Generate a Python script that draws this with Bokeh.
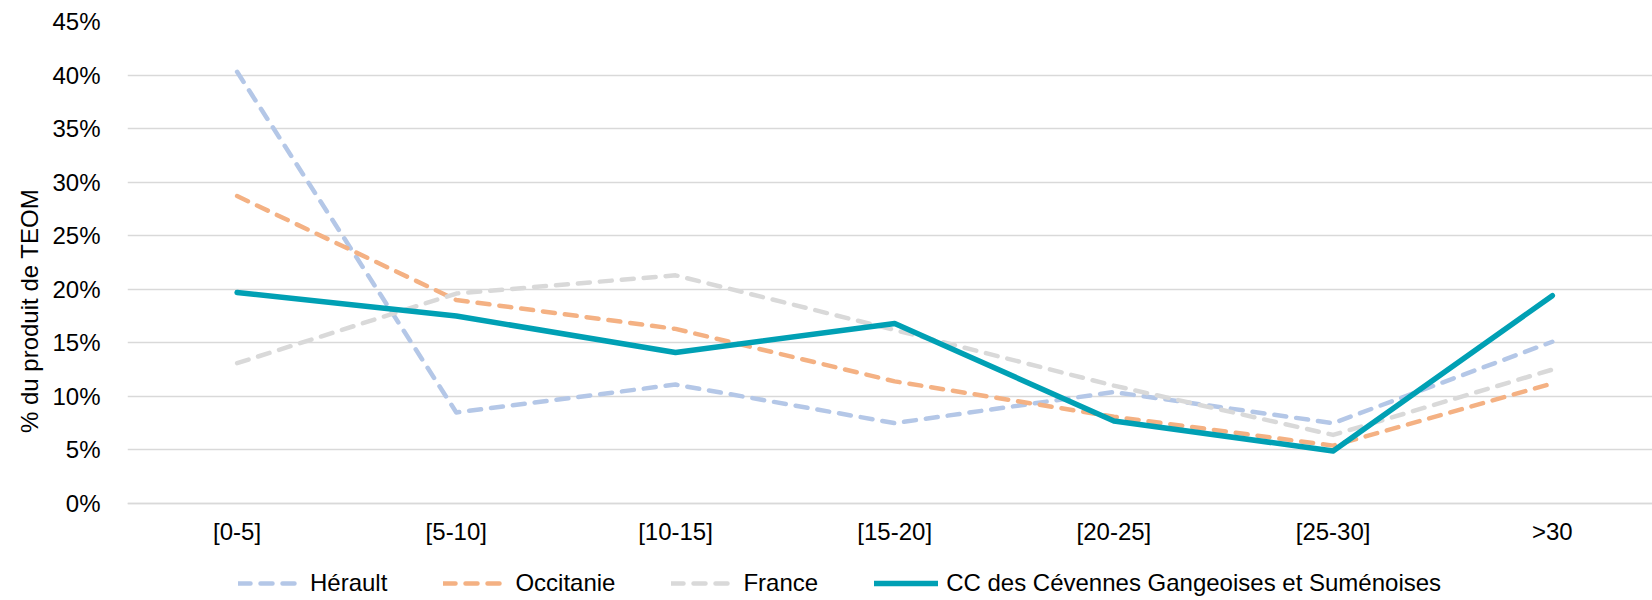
from bokeh.plotting import figure
from bokeh.models import (Range1d, FixedTicker, NumeralTickFormatter, Legend, LegendItem)
from bokeh.embed import file_html
from bokeh.resources import INLINE

categories = ["[0-5]", "[5-10]", "[10-15]", "[15-20]", "[20-25]", "[25-30]", ">30"]
herault = [0.403, 0.085, 0.111, 0.075, 0.104, 0.075, 0.151]
occitanie = [0.287, 0.190, 0.163, 0.114, 0.081, 0.054, 0.112]
france = [0.131, 0.196, 0.213, 0.162, 0.110, 0.064, 0.125]
cc = [0.197, 0.175, 0.141, 0.168, 0.077, 0.049, 0.194]
y_ticks = [0.0, 0.05, 0.10, 0.15, 0.20, 0.25, 0.30, 0.35, 0.40, 0.45]

FONT = "Liberation Sans"
GRID = "#D9D9D9"

x = list(range(len(categories)))

# frame extends below 0% so that the legend can sit inside it
p = figure(width=1652, height=600, output_backend="svg", toolbar_location=None,
           x_range=Range1d(-0.5, 6.457), y_range=Range1d(-0.0906, 0.45),
           min_border_left=127, min_border_top=21, min_border_right=0,
           min_border_bottom=0)
p.outline_line_color = None
p.background_fill_color = "white"
p.border_fill_color = "white"

p.xgrid.grid_line_color = None
p.ygrid.grid_line_color = GRID
p.ygrid.grid_line_width = 1.5
p.yaxis.ticker = FixedTicker(ticks=y_ticks)
p.yaxis.formatter = NumeralTickFormatter(format="0%")
p.yaxis.bounds = (0, 0.45)
p.yaxis.axis_line_color = None
p.yaxis.major_tick_line_color = None
p.yaxis.minor_tick_line_color = None
p.yaxis.major_label_standoff = 21
p.yaxis.major_label_text_font = FONT
p.yaxis.major_label_text_font_size = "24px"
p.yaxis.major_label_text_color = "#000000"
p.yaxis.axis_label = "% du produit de TEOM"
p.yaxis.axis_label_text_font = FONT
p.yaxis.axis_label_text_font_size = "24px"
p.yaxis.axis_label_text_font_style = "normal"
p.yaxis.axis_label_text_color = "#000000"
p.yaxis.axis_label_standoff = 6

p.xaxis.fixed_location = 0
p.xaxis.ticker = FixedTicker(ticks=x)
p.xaxis.major_label_overrides = {i: c for i, c in enumerate(categories)}
p.xaxis.axis_line_color = GRID
p.xaxis.axis_line_width = 1.5
p.xaxis.major_tick_line_color = None
p.xaxis.minor_tick_line_color = None
p.xaxis.major_label_standoff = 9
p.xaxis.major_label_text_font = FONT
p.xaxis.major_label_text_font_size = "24px"
p.xaxis.major_label_text_color = "#000000"

DASH = "12 10"
r_h = p.line(x, herault, line_color="#B4C7E7", line_width=4.5, line_dash=DASH, line_cap="round", line_join="round")
r_o = p.line(x, occitanie, line_color="#F4B183", line_width=4.5, line_dash=DASH, line_cap="round", line_join="round")
r_f = p.line(x, france, line_color="#D9D9D9", line_width=4.5, line_dash=DASH, line_cap="round", line_join="round")
r_c = p.line(x, cc, line_color="#00A0B4", line_width=5.5, line_cap="round", line_join="round")

legend = Legend(items=[
    LegendItem(label="Hérault", renderers=[r_h]),
    LegendItem(label="Occitanie", renderers=[r_o]),
    LegendItem(label="France", renderers=[r_f]),
    LegendItem(label="CC des Cévennes Gangeoises et Suménoises", renderers=[r_c]),
], orientation="horizontal", location=(111, 3), glyph_width=64, glyph_height=24,
   label_standoff=8, spacing=56, padding=0, margin=0,
   label_text_font=FONT, label_text_font_size="24px", label_text_color="#000000",
   border_line_color=None, background_fill_alpha=0)
p.add_layout(legend, "center")

open("out.html", "w").write(file_html(p, INLINE))
